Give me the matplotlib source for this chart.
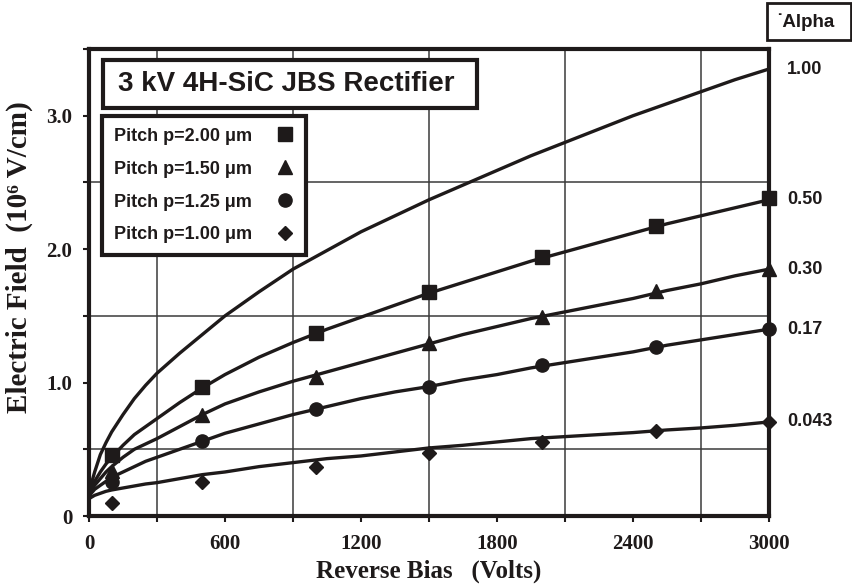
import matplotlib
matplotlib.use("Agg")
import matplotlib.pyplot as plt
from matplotlib.lines import Line2D
from matplotlib.patches import Rectangle

# Measured breakdown fields (10^6 V/cm) at the simulated bias points
bias_pts = [100, 500, 1000, 1500, 2000, 2500, 3000]
field_p200 = [0.46, 0.97, 1.37, 1.68, 1.94, 2.17, 2.38]
field_p150 = [0.34, 0.76, 1.04, 1.30, 1.49, 1.69, 1.85]
field_p125 = [0.255, 0.56, 0.80, 0.97, 1.13, 1.27, 1.40]
field_p100 = [0.10, 0.255, 0.37, 0.47, 0.555, 0.64, 0.705]

# Model curves for each alpha value
curve_bias = [0, 10, 25, 50, 75, 100, 150, 200, 250, 300, 400, 500, 600, 750, 900, 1050,
              1200, 1350, 1500, 1650, 1800, 1950, 2100, 2250, 2400, 2550, 2700, 2850, 3000]
curve_a100 = [0.14, 0.24, 0.33, 0.46, 0.55, 0.63, 0.76, 0.88, 0.98, 1.07, 1.22, 1.36, 1.50, 1.68,
              1.85, 1.99, 2.13, 2.25, 2.37, 2.48, 2.59, 2.70, 2.80, 2.90, 3.00, 3.09, 3.18, 3.27, 3.35]
curve_a050 = [0.14, 0.20, 0.26, 0.33, 0.39, 0.44, 0.53, 0.61, 0.67, 0.73, 0.85, 0.96, 1.06, 1.19,
              1.30, 1.40, 1.49, 1.58, 1.67, 1.75, 1.83, 1.91, 1.98, 2.05, 2.12, 2.19, 2.25, 2.31, 2.37]
curve_a030 = [0.14, 0.19, 0.23, 0.28, 0.33, 0.37, 0.44, 0.50, 0.54, 0.58, 0.67, 0.76, 0.84, 0.93,
              1.01, 1.08, 1.15, 1.22, 1.29, 1.36, 1.42, 1.48, 1.53, 1.58, 1.63, 1.69, 1.74, 1.80, 1.85]
curve_a017 = [0.14, 0.17, 0.20, 0.23, 0.26, 0.29, 0.33, 0.37, 0.41, 0.44, 0.50, 0.56, 0.62, 0.69,
              0.76, 0.82, 0.88, 0.93, 0.97, 1.02, 1.06, 1.11, 1.15, 1.19, 1.23, 1.28, 1.32, 1.36, 1.40]
curve_a0043 = [0.13, 0.14, 0.155, 0.17, 0.185, 0.195, 0.21, 0.225, 0.24, 0.25, 0.28, 0.31, 0.33, 0.37,
               0.40, 0.43, 0.45, 0.48, 0.51, 0.53, 0.555, 0.58, 0.595, 0.61, 0.625, 0.645, 0.66, 0.68, 0.705]

alpha_labels = ["1.00", "0.50", "0.30", "0.17", "0.043"]
pitch_labels = ["Pitch p=2.00 \u03bcm", "Pitch p=1.50 \u03bcm", "Pitch p=1.25 \u03bcm", "Pitch p=1.00 \u03bcm"]

x_ticks = [0, 600, 1200, 1800, 2400, 3000]
y_ticks = [0, 1.0, 2.0, 3.0]
y_tick_labels = ["0", "1.0", "2.0", "3.0"]

INK = "#1e1a1a"
SANS = ["Liberation Sans", "DejaVu Sans"]
SERIF = ["Liberation Serif", "DejaVu Serif"]

W, H = 852, 584
fig = plt.figure(figsize=(W / 100, H / 100), dpi=100)
ax = fig.add_axes([89 / W, 68 / H, 680 / W, 467 / H])


def fig_box(x0, y0, x1, y1, lw):
    """Framed white box given in pixel coordinates measured from the top-left."""
    fig.patches.append(Rectangle((x0 / W, 1 - y1 / H), (x1 - x0) / W, (y1 - y0) / H,
                                 transform=fig.transFigure, facecolor="white",
                                 edgecolor=INK, linewidth=lw, zorder=2))


ax.set_xlim(0, 3000)
ax.set_ylim(0, 3.5)

# grid every 300 V and every 0.5 MV/cm
ax.set_xticks(range(0, 3001, 300), minor=True)
ax.set_yticks([i * 0.5 for i in range(8)], minor=True)
ax.grid(which="minor", color="#3a3a3a", linewidth=1.1)
ax.set_axisbelow(True)

ax.set_xticks(x_ticks)
ax.set_xticklabels([str(v) for v in x_ticks])
ax.set_yticks(y_ticks)
ax.set_yticklabels(y_tick_labels)
ax.tick_params(which="both", direction="out", length=4, width=1.5, color=INK)
ax.tick_params(axis="x", which="major", pad=9)
ax.tick_params(axis="y", which="major", pad=8)
for lab in ax.get_xticklabels() + ax.get_yticklabels():
    lab.set_family(SERIF)
    lab.set_fontweight("bold")
    lab.set_fontsize(15)
    lab.set_color(INK)

for sp in ax.spines.values():
    sp.set_linewidth(3)
    sp.set_color(INK)

curves = [curve_a100, curve_a050, curve_a030, curve_a017, curve_a0043]
for c in curves:
    ax.plot(curve_bias, c, color=INK, linewidth=2.4, solid_joinstyle="round", zorder=3)

series = [(field_p200, "s", 9.5), (field_p150, "^", 10), (field_p125, "o", 9.5), (field_p100, "D", 7.5)]
for vals, mk, ms in series:
    ax.plot(bias_pts, vals, linestyle="None", marker=mk, markersize=ms, color=INK, zorder=4, clip_on=False)

for lab, c in zip(alpha_labels, curves):
    ax.annotate(lab, xy=(3000, c[-1]), xytext=(13, 0), textcoords="offset points",
                ha="left", va="center", fontsize=13, fontweight="bold", family=SANS, color=INK,
                annotation_clip=False)

# "Alpha" header box
fig_box(767, 3, 851, 40, 2)
fig.text(805 / W, 1 - 22 / H, "\u02d9Alpha", ha="center", va="center", fontsize=13.5,
         fontweight="bold", family=SANS, color=INK, zorder=3)

# title box
fig_box(103, 60, 477, 108, 3)
fig.text(286 / W, 1 - 84 / H, "3 kV 4H-SiC JBS Rectifier", ha="center", va="center",
         fontsize=20, fontweight="bold", family=SANS, color=INK, zorder=3)

handles = [Line2D([], [], linestyle="None", marker=mk, markersize=ms, color=INK)
           for _, mk, ms in series]
leg = fig.legend(handles, pitch_labels, loc="upper left",
                 bbox_to_anchor=(102 / W, 1 - 116 / H), markerfirst=False,
                 prop=dict(family=SANS, weight="bold", size=13), frameon=True, fancybox=False,
                 framealpha=1, edgecolor=INK, borderpad=0.65, labelspacing=0.88,
                 handlelength=1.0, handletextpad=1.35, borderaxespad=0)
leg.get_frame().set_linewidth(3)
for t in leg.get_texts():
    t.set_color(INK)

ax.set_xlabel("Reverse Bias   (Volts)", family=SERIF, fontweight="bold", fontsize=18,
              color=INK, labelpad=4)
ax.set_ylabel("Electric Field  (10\u2076 V/cm)", family=SERIF, fontweight="bold", fontsize=21,
              color=INK, va="center", ha="center")
ax.yaxis.set_label_coords(-70 / 680, (516 - 257) / 467)

fig.savefig("out.png", dpi=100)
